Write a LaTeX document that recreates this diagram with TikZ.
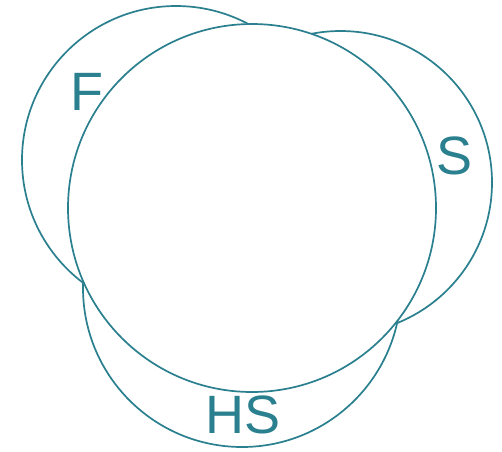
\documentclass[tikz,border=0pt]{standalone}
\usepackage{fontspec}
\setmainfont{Liberation Sans}
\definecolor{teal1}{RGB}{42,128,142}
\tikzset{
  ring/.style={draw=teal1, line width=1.7pt, fill=white},
  lbl/.style={text=teal1, font=\fontsize{54}{54}\selectfont, inner sep=0pt}
}
\begin{document}
\begin{tikzpicture}[x=1pt,y=-1pt]
\useasboundingbox (0,0) rectangle (502,451);
\fill[white] (0,0) rectangle (502,451);
% outer circles
\draw[ring] (176,160) circle[radius=154];
\draw[ring] (340.5,182.5) circle[radius=151.5];
\draw[ring] (242,288) circle[radius=159];
% big circle on top
\draw[ring] (252,208) circle[radius=184];
% labels
\node[lbl] (F) at (87,92) {F};
\node[lbl] (S) at (454,156) {S};
\node[lbl] (HS) at (243,415) {HS};
\end{tikzpicture}
\end{document}
